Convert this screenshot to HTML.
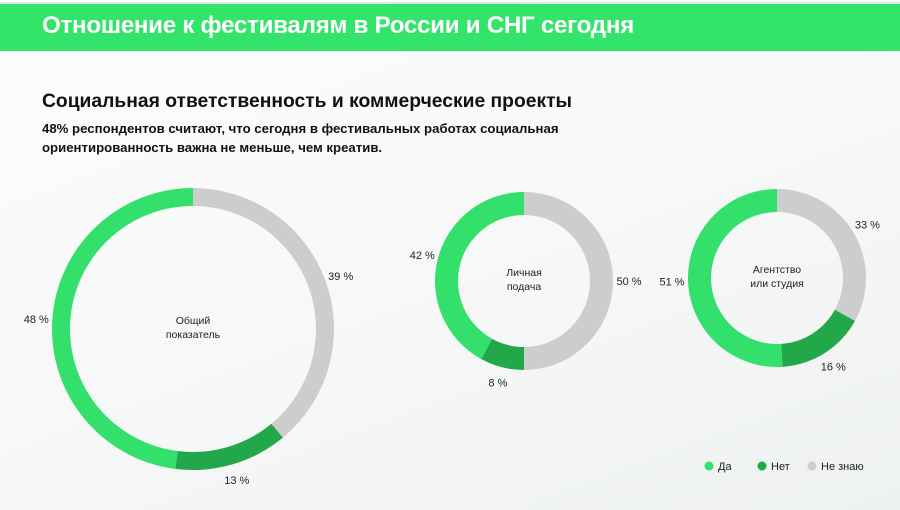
<!DOCTYPE html>
<html><head><meta charset="utf-8"><style>
body{margin:0;width:900px;height:510px;overflow:hidden;font-family:"Liberation Sans","Noto Sans CJK SC",sans-serif;background:linear-gradient(160deg,#fdfdfd 0%,#f6f7f7 60%,#eef1f1 100%);position:relative}
.hdr{position:absolute;left:0;top:2px;width:900px;height:47px;background:#33e46a;border-top:2px solid #e4e4e4}
.hdr span{position:absolute;left:42px;top:8px;color:#fff;font-size:24.2px;font-weight:bold;letter-spacing:-0.3px}
h1{position:absolute;left:42px;top:91px;margin:0;font-size:19.3px;font-weight:bold;color:#111}
p{position:absolute;left:42px;top:119px;margin:0;font-size:13.2px;font-weight:bold;line-height:19px;color:#111}
svg{position:absolute;left:0;top:0}
</style></head><body>
<div class="hdr"><span>Отношение к фестивалям в России и СНГ сегодня</span></div>
<h1>Социальная ответственность и коммерческие проекты</h1>
<p>48% респондентов считают, что сегодня в фестивальных работах социальная<br>ориентированность важна не меньше, чем креатив.</p>
<svg id="chart" width="900" height="510"></svg>
<script>
const charts=["Общий показатель","Личная подача","Агентство или студия"];
const yesValues=[48,42,51];
const noValues=[13,8,16];
const dkValues=[39,50,33];
const categories=["Да","Нет","Не знаю"];
const colors=["#33e06b","#22a84a","#cdcdcd"];
const geom=[{cx:193,cy:329,r:141,w:18,lines:["Общий","показатель"]},{cx:524,cy:281,r:89,w:23,lines:["Личная","подача"]},{cx:777,cy:278,r:89,w:23,lines:["Агентство","или студия"]}];
const NS="http://www.w3.org/2000/svg";
const svg=document.getElementById('chart');
function pt(cx,cy,r,f){const a=f*2*Math.PI;return [cx+r*Math.sin(a),cy-r*Math.cos(a)];}
function arc(g,f0,f1){const ro=g.r,ri=g.r-g.w;const [x0,y0]=pt(g.cx,g.cy,ro,f0),[x1,y1]=pt(g.cx,g.cy,ro,f1),[x2,y2]=pt(g.cx,g.cy,ri,f1),[x3,y3]=pt(g.cx,g.cy,ri,f0);const l=(f1-f0)>0.5?1:0;
return `M${x0} ${y0}A${ro} ${ro} 0 ${l} 1 ${x1} ${y1}L${x2} ${y2}A${ri} ${ri} 0 ${l} 0 ${x3} ${y3}Z`;}
function txt(x,y,s,anchor){const t=document.createElementNS(NS,'text');t.setAttribute('x',x);t.setAttribute('y',y);t.setAttribute('font-size','11');t.setAttribute('fill','#222');t.setAttribute('text-anchor',anchor||'middle');t.textContent=s;svg.appendChild(t);return t;}
charts.forEach((c,i)=>{
  const g=geom[i];
  const vals=[dkValues[i],noValues[i],yesValues[i]];
  const cols=[colors[2],colors[1],colors[0]];
  const names=["dont-know","no","yes"];
  const tot=vals.reduce((a,b)=>a+b,0);
  let f=0;
  vals.forEach((v,j)=>{
    const f1=f+v/tot;
    const p=document.createElementNS(NS,'path');
    p.setAttribute('d',arc(g,f,f1));p.setAttribute('fill',cols[j]);
    
    
    svg.appendChild(p);
    const [lx,ly]=pt(g.cx,g.cy,g.r+16,(f+f1)/2);
    const t=txt(lx,ly+4,v+' %');
    
    
    f=f1;
  });
  g.lines.forEach((s,k)=>{const t=txt(g.cx,g.cy-2+k*14-(g.lines.length-1)*7+4,s);t.setAttribute('font-size','10.5');
    
    });
});
const lx=[709,762,812];
categories.forEach((c,i)=>{
  const d=document.createElementNS(NS,'circle');d.setAttribute('cx',lx[i]);d.setAttribute('cy',466);d.setAttribute('r',4.5);d.setAttribute('fill',colors[i]);
  
  
  svg.appendChild(d);
  const t=txt(lx[i]+9,470,c,'start');
  
  
});
</script>
</body></html>
